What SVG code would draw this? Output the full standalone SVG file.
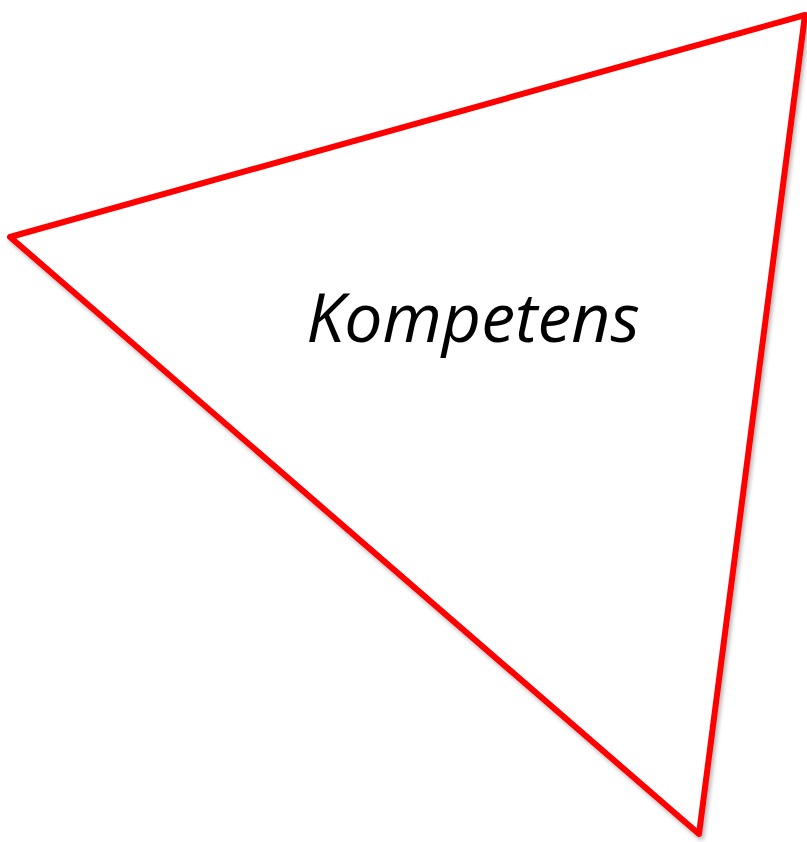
<svg xmlns="http://www.w3.org/2000/svg" width="807" height="842" viewBox="0 0 807 842">
<style>
.tri{fill:#ffffff;stroke:#ff0000;stroke-width:6;stroke-linejoin:round}
.lbl{font-family:"Open Sans","Noto Sans",sans-serif;font-style:italic;font-size:68px;fill:#000}
</style>
<defs>
<filter id="sh" x="-10%" y="-10%" width="120%" height="120%">
<feGaussianBlur in="SourceAlpha" stdDeviation="2"/>
<feOffset dx="2" dy="3" result="b"/>
<feComponentTransfer><feFuncA type="linear" slope="0.3"/></feComponentTransfer>
<feMerge><feMergeNode/><feMergeNode in="SourceGraphic"/></feMerge>
</filter>
</defs>
<g id="triangle">
<polygon class="tri" filter="url(#sh)" points="10,237 805,15 699,834"/>
</g>
<g id="label">
<text class="lbl" x="473" y="342" text-anchor="middle">Kompetens</text>
</g>
</svg>
